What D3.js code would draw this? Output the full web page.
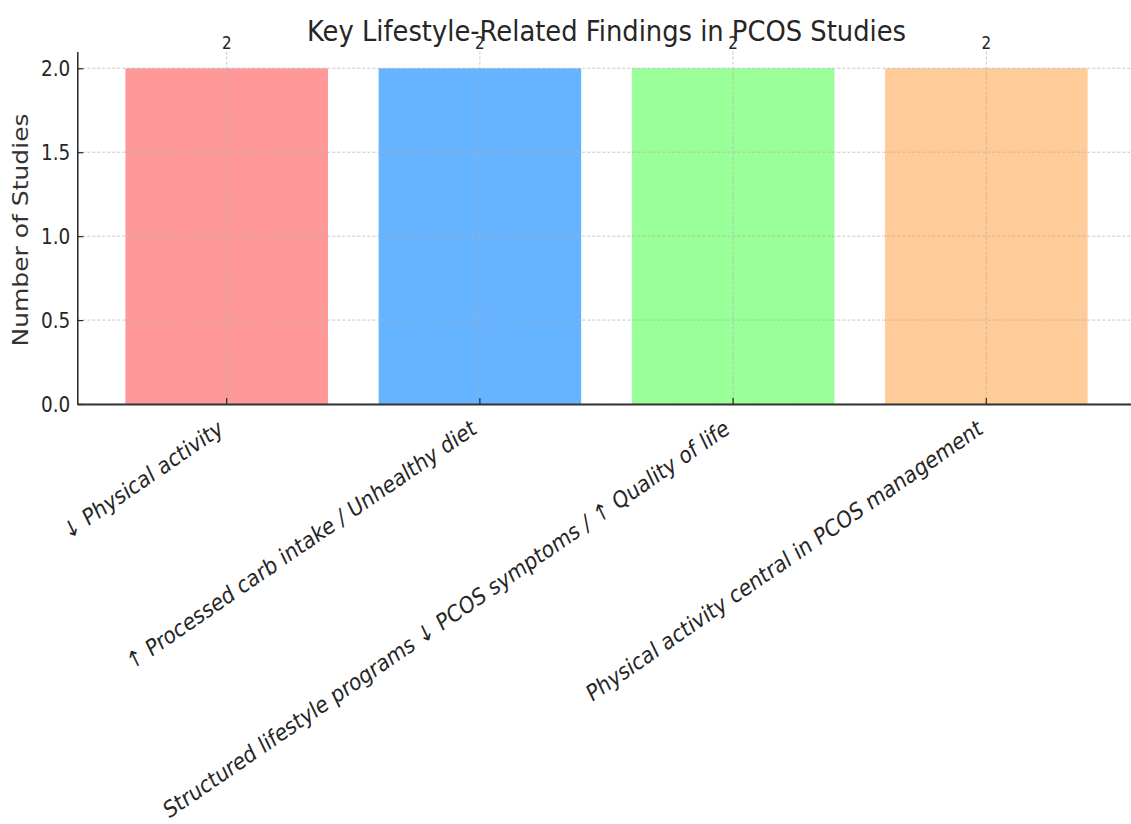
<!DOCTYPE html>
<html>
<head>
<meta charset="utf-8">
<script src="https://cdn.jsdelivr.net/npm/d3@7"></script>
<style>
  html, body { margin: 0; padding: 0; background: #ffffff; }
  svg { display: block; font-family: "DejaVu Sans", sans-serif; }
</style>
</head>
<body>
<svg id="chart" width="1131" height="824"></svg>
<script>
// Findings and number of studies reporting each
const categories = [
  "↓ Physical activity",
  "↑ Processed carb intake / Unhealthy diet",
  "Structured lifestyle programs ↓ PCOS symptoms / ↑ Quality of life",
  "Physical activity central in PCOS management"
];
const studyCounts = [2, 2, 2, 2];
const barColors = ["#ff9999", "#66b3ff", "#99ff99", "#ffcc99"];
const yTicks = [0, 0.5, 1.0, 1.5, 2.0];
const chartTitle = "Key Lifestyle-Related Findings in PCOS Studies";
const yLabel = "Number of Studies";

const svg = d3.select("#chart");
const plot = { left: 77.3, right: 1135.7, top: 51.5, bottom: 404 };
// The figure is drawn narrower than tall: glyphs are compressed horizontally
const k = 0.84;
const ink = "#262626";

const x = d3.scaleBand()
  .domain(categories)
  .range([plot.left, plot.right])
  .paddingInner(0.2)
  .paddingOuter(0.19);

const y = d3.scaleLinear()
  .domain([0, 2.1])
  .range([plot.bottom, plot.top]);

const cx = d => x(d) + x.bandwidth() / 2;

// Bars
svg.append("g")
  .selectAll("rect")
  .data(categories)
  .join("rect")
  .attr("x", d => x(d))
  .attr("y", (d, i) => y(studyCounts[i]))
  .attr("width", x.bandwidth())
  .attr("height", (d, i) => y(0) - y(studyCounts[i]))
  .attr("fill", (d, i) => barColors[i]);

// Dashed grid on top of the bars
const grid = svg.append("g")
  .attr("stroke", "#b0b0b0")
  .attr("stroke-width", 1)
  .attr("stroke-dasharray", "3,2")
  .attr("opacity", 0.7);
grid.selectAll("line.h")
  .data(yTicks)
  .join("line")
  .attr("class", "h")
  .attr("x1", plot.left).attr("x2", plot.right)
  .attr("y1", d => y(d)).attr("y2", d => y(d));
grid.selectAll("line.v")
  .data(categories)
  .join("line")
  .attr("class", "v")
  .attr("x1", cx).attr("x2", cx)
  .attr("y1", plot.top).attr("y2", plot.bottom);

// Y axis (ticks pointing inward), labels drawn separately
const gy = svg.append("g")
  .attr("transform", `translate(${plot.left},0)`)
  .call(d3.axisLeft(y).tickValues(yTicks).tickFormat("").tickSizeInner(-6).tickSizeOuter(0));
gy.select(".domain").attr("stroke", ink).attr("stroke-width", 1.5);
gy.selectAll(".tick line").attr("stroke", ink).attr("stroke-width", 1.2);

svg.append("g")
  .selectAll("text")
  .data(yTicks)
  .join("text")
  .attr("transform", d => `translate(${plot.left - 7},${y(d)}) scale(${k},1)`)
  .attr("text-anchor", "end")
  .attr("dy", "0.36em")
  .attr("font-size", 22)
  .attr("fill", ink)
  .text(d3.format(".1f"));

// X axis (ticks pointing inward, rotated labels)
const gx = svg.append("g")
  .attr("transform", `translate(0,${plot.bottom})`)
  .call(d3.axisBottom(x).tickFormat("").tickSizeInner(-6).tickSizeOuter(0));
gx.select(".domain").attr("stroke", "#333").attr("stroke-width", 1.8);
gx.selectAll(".tick line").attr("stroke", ink).attr("stroke-width", 1.2);

const angle = 30;
const rad = angle * Math.PI / 180;
const fsTick = 23.3;
const asc = 0.93 * fsTick, desc = 0.24 * fsTick;
svg.append("g")
  .selectAll("text")
  .data(categories)
  .join("text")
  .attr("transform", d => {
    const ox = cx(d) - k * desc * Math.sin(rad);
    const oy = plot.bottom + 10 + asc * Math.cos(rad);
    return `translate(${ox},${oy}) scale(${k},1) rotate(${-angle})`;
  })
  .attr("text-anchor", "end")
  .attr("font-size", fsTick)
  .attr("fill", ink)
  .text(d => d);

// Value labels above bars
svg.append("g")
  .selectAll("text")
  .data(categories)
  .join("text")
  .attr("transform", (d, i) => `translate(${cx(d)},${y(studyCounts[i] + 0.1) - 3}) scale(${k},1)`)
  .attr("text-anchor", "middle")
  .attr("font-size", 18)
  .attr("fill", ink)
  .text((d, i) => studyCounts[i]);

// Y axis label
svg.append("text")
  .attr("transform", `translate(28,230) scale(${k},1) rotate(-90)`)
  .attr("text-anchor", "middle")
  .attr("font-size", 25)
  .attr("fill", "#333")
  .text(yLabel);

// Title
svg.append("text")
  .attr("transform", `translate(${(plot.left + plot.right) / 2},41) scale(0.89,1)`)
  .attr("text-anchor", "middle")
  .attr("font-size", 29)
  .attr("fill", ink)
  .text(chartTitle);
</script>
</body>
</html>
